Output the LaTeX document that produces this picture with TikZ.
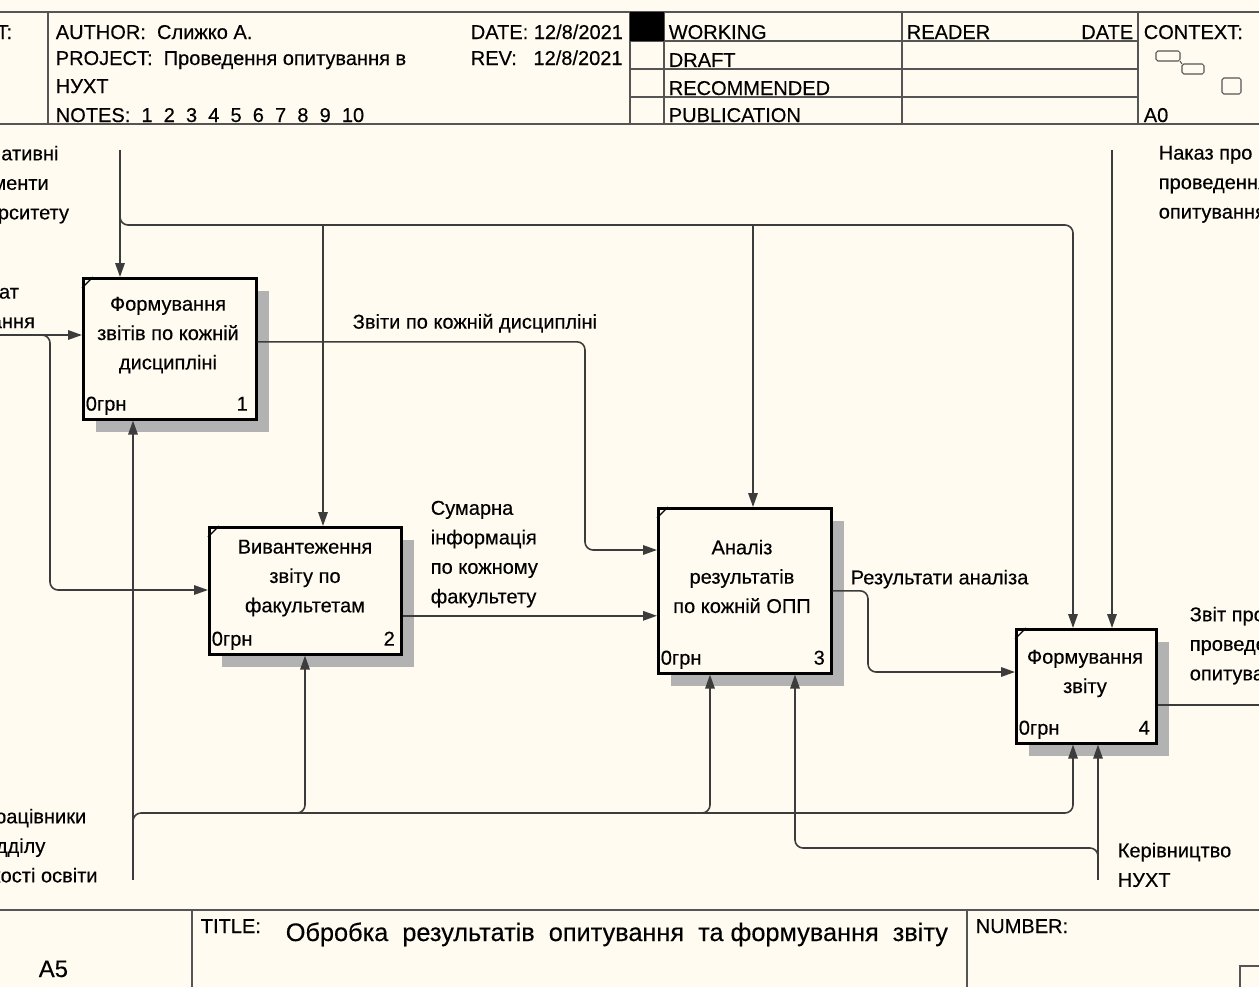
\documentclass[tikz,border=0pt]{standalone}
\usepackage{fontspec}
\setmainfont[FakeBold=0.3]{Liberation Sans}
\usetikzlibrary{arrows.meta,shadows}

\definecolor{paper}{RGB}{255,251,240}
\definecolor{wire}{RGB}{60,60,60}
\definecolor{rule}{RGB}{85,85,85}

\begin{document}
\begin{tikzpicture}[x=0.02cm, y=-0.02cm, line width=0.9pt,
  fbox/.style={draw=black, fill=paper, line width=1.5pt, anchor=north west, inner sep=0pt,
    drop shadow={shadow xshift=0.26cm, shadow yshift=-0.26cm, fill=black!30, opacity=1}},
  arr/.style={draw=wire, rounded corners=0.16cm, -{Triangle[length=0.28cm,width=0.19cm]}},
  wireline/.style={draw=wire, rounded corners=0.16cm},
  lbl/.style={font=\fontsize{11.4}{16.8}\selectfont, inner sep=0pt, align=left, anchor=north west},
  boxtxt/.style={font=\fontsize{11.4}{16.7}\selectfont, inner sep=0pt, align=center, anchor=north},
  hdr/.style={font=\fontsize{11.4}{14}\selectfont, inner sep=0pt, anchor=base west},
  frame/.style={draw=rule, line width=1.1pt}]

  % page and clip
  \useasboundingbox (0,0) rectangle (1259,987);
  \fill[paper] (0,0) rectangle (1259,987);
  \clip (0,0) rectangle (1259,987);

  % header frame
  \draw[frame] (0,12) -- (1259,12);
  \draw[frame] (0,124) -- (1259,124);
  \foreach \x in {48,630,664,902,1138} {\draw[frame] (\x,12) -- (\x,124);}
  \foreach \y in {41,69,97} {\draw[frame] (630,\y) -- (1138,\y);}
  \fill (630,12) rectangle (664,41);
  % header texts
  \node[hdr, anchor=base east] (usedat) at (13,39) {USED AT:};
  \node[hdr] (author) at (55,39) {AUTHOR:\ \ Слижко А.};
  \node[hdr] (project) at (55,65) {PROJECT:\ \ Проведення опитування в};
  \node[hdr] (project2) at (55,93) {НУХТ};
  \node[hdr] (notes) at (55,122) {NOTES:\ \ 1\ \ 2\ \ 3\ \ 4\ \ 5\ \ 6\ \ 7\ \ 8\ \ 9\ \ 10};
  \node[hdr] (date) at (470,39) {DATE: 12/8/2021};
  \node[hdr] (rev) at (470,65) {REV:\ \ \ 12/8/2021};
  \node[hdr] (working) at (668,39) {WORKING};
  \node[hdr] (draft) at (668,67) {DRAFT};
  \node[hdr] (recom) at (668,95) {RECOMMENDED};
  \node[hdr] (publ) at (668,122) {PUBLICATION};
  \node[hdr] (reader) at (906,39) {READER};
  \node[hdr, anchor=base east] (rdate) at (1134,39) {DATE};
  \node[hdr] (context) at (1143,39) {CONTEXT:};
  \node[hdr] (azero) at (1143,122) {A0};
  % context thumbnail
  \draw[rule, line width=0.6pt, rounded corners=1pt] (1156,51) rectangle (1180,61);
  \draw[rule, line width=0.6pt, rounded corners=1pt] (1182,64) rectangle (1204,74);
  \draw[rule, line width=0.6pt] (1180,61) -- (1182,64);
  \draw[rule, line width=0.6pt, rounded corners=1pt] (1222,78) rectangle (1241,94);

  % footer frame
  \draw[frame] (0,910) -- (1259,910);
  \draw[frame] (192,910) -- (192,987);
  \draw[frame] (967,910) -- (967,987);
  \draw[frame] (1240,966) rectangle (1270,995);
  \node[font=\fontsize{13.6}{16}\selectfont, inner sep=0pt, anchor=base west] (node) at (38,977) {A5};
  \node[hdr] (tlabel) at (200,933) {TITLE:};
  \node[font=\fontsize{14.4}{17}\selectfont, inner sep=0pt, anchor=base west] (title) at (285,941)
    {Обробка\ \ результатів\ \ опитування\ \ та формування\ \ звіту};
  \node[hdr] (number) at (975,933) {NUMBER:};

  % activity boxes
  \node[fbox, minimum width=3.46cm, minimum height=2.82cm] (b1) at (82,277) {};
  \node[fbox, minimum width=3.84cm, minimum height=2.54cm] (b2) at (208,526) {};
  \node[fbox, minimum width=3.46cm, minimum height=3.30cm] (b3) at (657,507) {};
  \node[fbox, minimum width=2.80cm, minimum height=2.28cm] (b4) at (1015,628) {};
  \foreach \b in {b1,b2,b3,b4} {
    \draw[line width=0.7pt] ([yshift=-0.22cm]\b.north west) -- ([xshift=0.22cm]\b.north west);
    \node[hdr] (c\b) at ([xshift=0.06cm,yshift=0.2cm]\b.south west) {0грн};
  }
  \node[hdr, anchor=base east] (n1) at ([xshift=-0.18cm,yshift=0.2cm]b1.south east) {1};
  \node[hdr, anchor=base east] (n2) at ([xshift=-0.14cm,yshift=0.2cm]b2.south east) {2};
  \node[hdr, anchor=base east] (n3) at ([xshift=-0.14cm,yshift=0.2cm]b3.south east) {3};
  \node[hdr, anchor=base east] (n4) at ([xshift=-0.14cm,yshift=0.2cm]b4.south east) {4};
  \node[boxtxt] (t1) at (168,296) {Формування\\звітів по кожній\\дисципліні};
  \node[boxtxt] (t2) at (305,539) {Вивантеження\\звіту по\\факультетам};
  \node[boxtxt] (t3) at (742,539) {Аналіз\\результатів\\по кожній ОПП};
  \node[boxtxt] (t4) at (1085,649) {Формування\\звіту};

  % free ends and bends
  \coordinate (nd) at (120,150);
  \coordinate (ndj) at (120,212);
  \coordinate (k2) at (323,225);
  \coordinate (k3) at (753,225);
  \coordinate (k4) at (1073,225);
  \coordinate (nk) at (1112,150);
  \coordinate (ro) at (0,335);
  \coordinate (roj) at (38,335);
  \coordinate (r2) at (50,590);
  \coordinate (z1) at (585,550);
  \coordinate (z3) at (868,672);
  \coordinate (zv) at (1262,705);
  \coordinate (pv) at (133,880);
  \coordinate (pj) at (133,824);
  \coordinate (m2) at (305,813);
  \coordinate (m3) at (710,813);
  \coordinate (m4) at (1073,813);
  \coordinate (kv) at (1098,880);
  \coordinate (kj) at (1098,858);
  \coordinate (m3b) at (795,848);

  % controls
  \draw[arr] (nd) -- (nd |- b1.north);
  \draw[arr] (ndj) |- (k4) -- (k4 |- b4.north);
  \draw[arr] (k2) -- (k2 |- b2.north);
  \draw[arr] (k3) -- (k3 |- b3.north);
  \draw[arr] (nk) -- (nk |- b4.north);
  % inputs and outputs
  \draw[arr] (ro) -- (ro -| b1.west);
  \draw[arr] (roj) -| (r2) -- (r2 -| b2.west);
  \draw[arr] ([yshift=0.14cm]b1.east) -| (z1) -- (z1 -| b3.west);
  \draw[arr] ([yshift=-0.5cm]b2.east) -- ([yshift=-0.5cm]b2.east -| b3.west);
  \draw[arr] (b3.east) -| (z3) -- (z3 -| b4.west);
  \draw[wireline] (zv -| b4.east) -- (zv);
  % mechanisms
  \draw[arr] (pv) -- (pv |- b1.south);
  \draw[arr] (pj) |- (m4) -- (m4 |- b4.south);
  \draw[arr] ([xshift=-0.24cm]m2) -| (m2 |- b2.south);
  \draw[arr] ([xshift=-0.24cm]m3) -| (m3 |- b3.south);
  \draw[arr] (kv) -- (kv |- b4.south);
  \draw[arr] (kj) |- (m3b) -- (m3b |- b3.south);

  % arrow labels
  \node[lbl] (ndl) at (-50,145) {Нормативні\\документи\\університету};
  \node[lbl] (rol) at (-73,284) {Результат\\опитування};
  \node[lbl] (zvl) at (352,313) {Звіти по кожній дисципліні};
  \node[lbl] (suml) at (430,500) {Сумарна\\інформація\\по кожному\\факультету};
  \node[lbl] (resl) at (850,569) {Результати аналіза};
  \node[lbl] (nakl) at (1158,145) {Наказ про\\проведення\\опитування};
  \node[lbl] (zvitl) at (1189,606) {Звіт про\\проведення\\опитування};
  \node[lbl] (prl) at (-20,808) {Працівники\\відділу\\якості освіти};
  \node[lbl] (kerl) at (1117,842) {Керівництво\\НУХТ};
\end{tikzpicture}
\end{document}
